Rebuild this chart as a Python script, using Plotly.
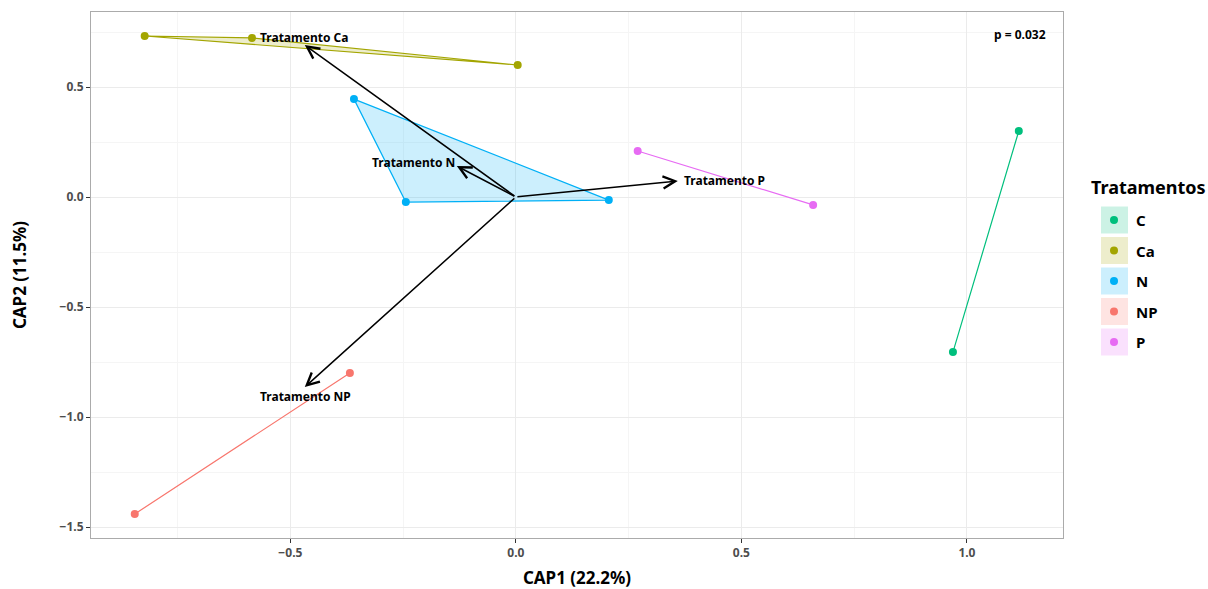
import plotly.graph_objects as go

# Sample scores on the first two CAP axes, per treatment
groups = ["C", "Ca", "N", "NP", "P"]
colors = {"C": "#00BF7D", "Ca": "#A3A500", "N": "#00B0F6", "NP": "#F8766D", "P": "#E76BF3"}
fills = {"C": "rgba(0,191,125,0.2)", "Ca": "rgba(163,165,0,0.2)", "N": "rgba(0,176,246,0.2)",
         "NP": "rgba(248,118,109,0.2)", "P": "rgba(231,107,243,0.2)"}

cap1 = {
    "C": [1.115, 0.969],
    "Ca": [-0.823, -0.585, 0.004],
    "N": [-0.359, -0.244, 0.206],
    "NP": [-0.368, -0.845],
    "P": [0.270, 0.659],
}
cap2 = {
    "C": [0.300, -0.705],
    "Ca": [0.732, 0.723, 0.600],
    "N": [0.445, -0.023, -0.014],
    "NP": [-0.800, -1.441],
    "P": [0.209, -0.036],
}

# Biplot vectors for the treatment constraints
vec_names = ["Tratamento Ca", "Tratamento N", "Tratamento P", "Tratamento NP"]
vec_cap1 = [-0.468, -0.131, 0.359, -0.468]
vec_cap2 = [0.691, 0.141, 0.073, -0.864]
lab_cap1 = [-0.470, -0.226, 0.463, -0.466]
lab_cap2 = [0.723, 0.159, 0.077, -0.905]

p_text = "p = 0.032"

x_ticks = [-0.5, 0.0, 0.5, 1.0]
y_ticks = [-1.5, -1.0, -0.5, 0.0, 0.5]

FONT = "Noto Sans"

fig = go.Figure()

for g in groups:
    xs = cap1[g] + [cap1[g][0]]
    ys = cap2[g] + [cap2[g][0]]
    fig.add_trace(go.Scatter(
        x=xs, y=ys, mode="lines",
        fill="toself" if len(cap1[g]) > 2 else None,
        fillcolor=fills[g],
        line=dict(color=colors[g], width=1.2),
        showlegend=False, hoverinfo="skip",
    ))
    fig.add_trace(go.Scatter(
        x=cap1[g], y=cap2[g], mode="markers",
        marker=dict(color=colors[g], size=8),
        name=g, showlegend=False,
    ))

annotations = []
for name, vx, vy, lx, ly in zip(vec_names, vec_cap1, vec_cap2, lab_cap1, lab_cap2):
    annotations.append(dict(
        x=vx, y=vy, ax=0, ay=0, xref="x", yref="y", axref="x", ayref="y",
        text="", showarrow=True, arrowhead=5, arrowsize=1.6, arrowwidth=1.5,
        arrowcolor="black",
    ))
    annotations.append(dict(
        x=lx, y=ly, xref="x", yref="y", text=f"<b>{name}</b>", showarrow=False,
        font=dict(family=FONT, size=12, color="black"),
    ))

annotations.append(dict(
    x=1.18, y=0.74, xref="x", yref="y", text=f"<b>{p_text}</b>", showarrow=False,
    xanchor="right", font=dict(family=FONT, size=12, color="black"),
))

W, H = 1208, 589
ML, MR, MT, MB = 91, 145, 12, 51

fig.update_layout(
    width=W, height=H,
    margin=dict(l=ML, r=MR, t=MT, b=MB),
    paper_bgcolor="white", plot_bgcolor="white",
    xaxis=dict(
        range=[-0.942, 1.213], tickvals=x_ticks, tickformat=".1f", automargin=False,
        showgrid=True, gridcolor="#EBEBEB", gridwidth=1,
        minor=dict(dtick=0.25, tick0=0, showgrid=True, gridcolor="#F5F5F5", gridwidth=1),
        zeroline=False, showline=True, mirror=True, linecolor="#ABABAB", linewidth=1,
        ticks="outside", ticklen=4, tickcolor="#333333",
        tickfont=dict(family=FONT, size=12, color="#4D4D4D", weight="bold"),
        title=dict(text="<b>CAP1 (22.2%)</b>", font=dict(family=FONT, size=17, color="black"), standoff=14),
    ),
    yaxis=dict(
        range=[-1.55, 0.841], tickvals=y_ticks, tickformat=".1f", automargin=False,
        showgrid=True, gridcolor="#EBEBEB", gridwidth=1,
        minor=dict(dtick=0.25, tick0=0, showgrid=True, gridcolor="#F5F5F5", gridwidth=1),
        zeroline=False, showline=True, mirror=True, linecolor="#ABABAB", linewidth=1,
        ticks="outside", ticklen=4, tickcolor="#333333",
        tickfont=dict(family=FONT, size=12, color="#4D4D4D", weight="bold"),
        title=dict(text="<b>CAP2 (11.5%)</b>", font=dict(family=FONT, size=17, color="black"), standoff=28),
    ),
    showlegend=False,
)

# Hand-drawn legend: title, shaded key boxes with a dot, and labels (paper coords)
pl, pr, pt, pb = ML, W - MR, MT, H - MB
pw, ph = pr - pl, pb - pt


def px(x):
    return (x - pl) / pw


def py(y):
    return (pb - y) / ph


shapes = []
annotations.append(dict(
    x=px(1089), y=py(187), xref="paper", yref="paper", xanchor="left", yanchor="middle",
    text="<b>Tratamentos</b>", showarrow=False, font=dict(family=FONT, size=18, color="black"),
))
for i, g in enumerate(groups):
    cy = 220 + i * 30.5
    shapes.append(dict(type="rect", xref="paper", yref="paper",
                       x0=px(1101), x1=px(1128), y0=py(cy - 13.5), y1=py(cy + 13.5),
                       fillcolor=fills[g], line=dict(width=0), layer="above"))
    shapes.append(dict(type="circle", xref="paper", yref="paper",
                       x0=px(1110), x1=px(1118), y0=py(cy - 4), y1=py(cy + 4),
                       fillcolor=colors[g], line=dict(width=0), layer="above"))
    annotations.append(dict(
        x=px(1134), y=py(cy), xref="paper", yref="paper", xanchor="left", yanchor="middle",
        text=f"<b>{g}</b>", showarrow=False, font=dict(family=FONT, size=15, color="black"),
    ))

fig.update_layout(annotations=annotations, shapes=shapes)
fig.write_html("out.html")
